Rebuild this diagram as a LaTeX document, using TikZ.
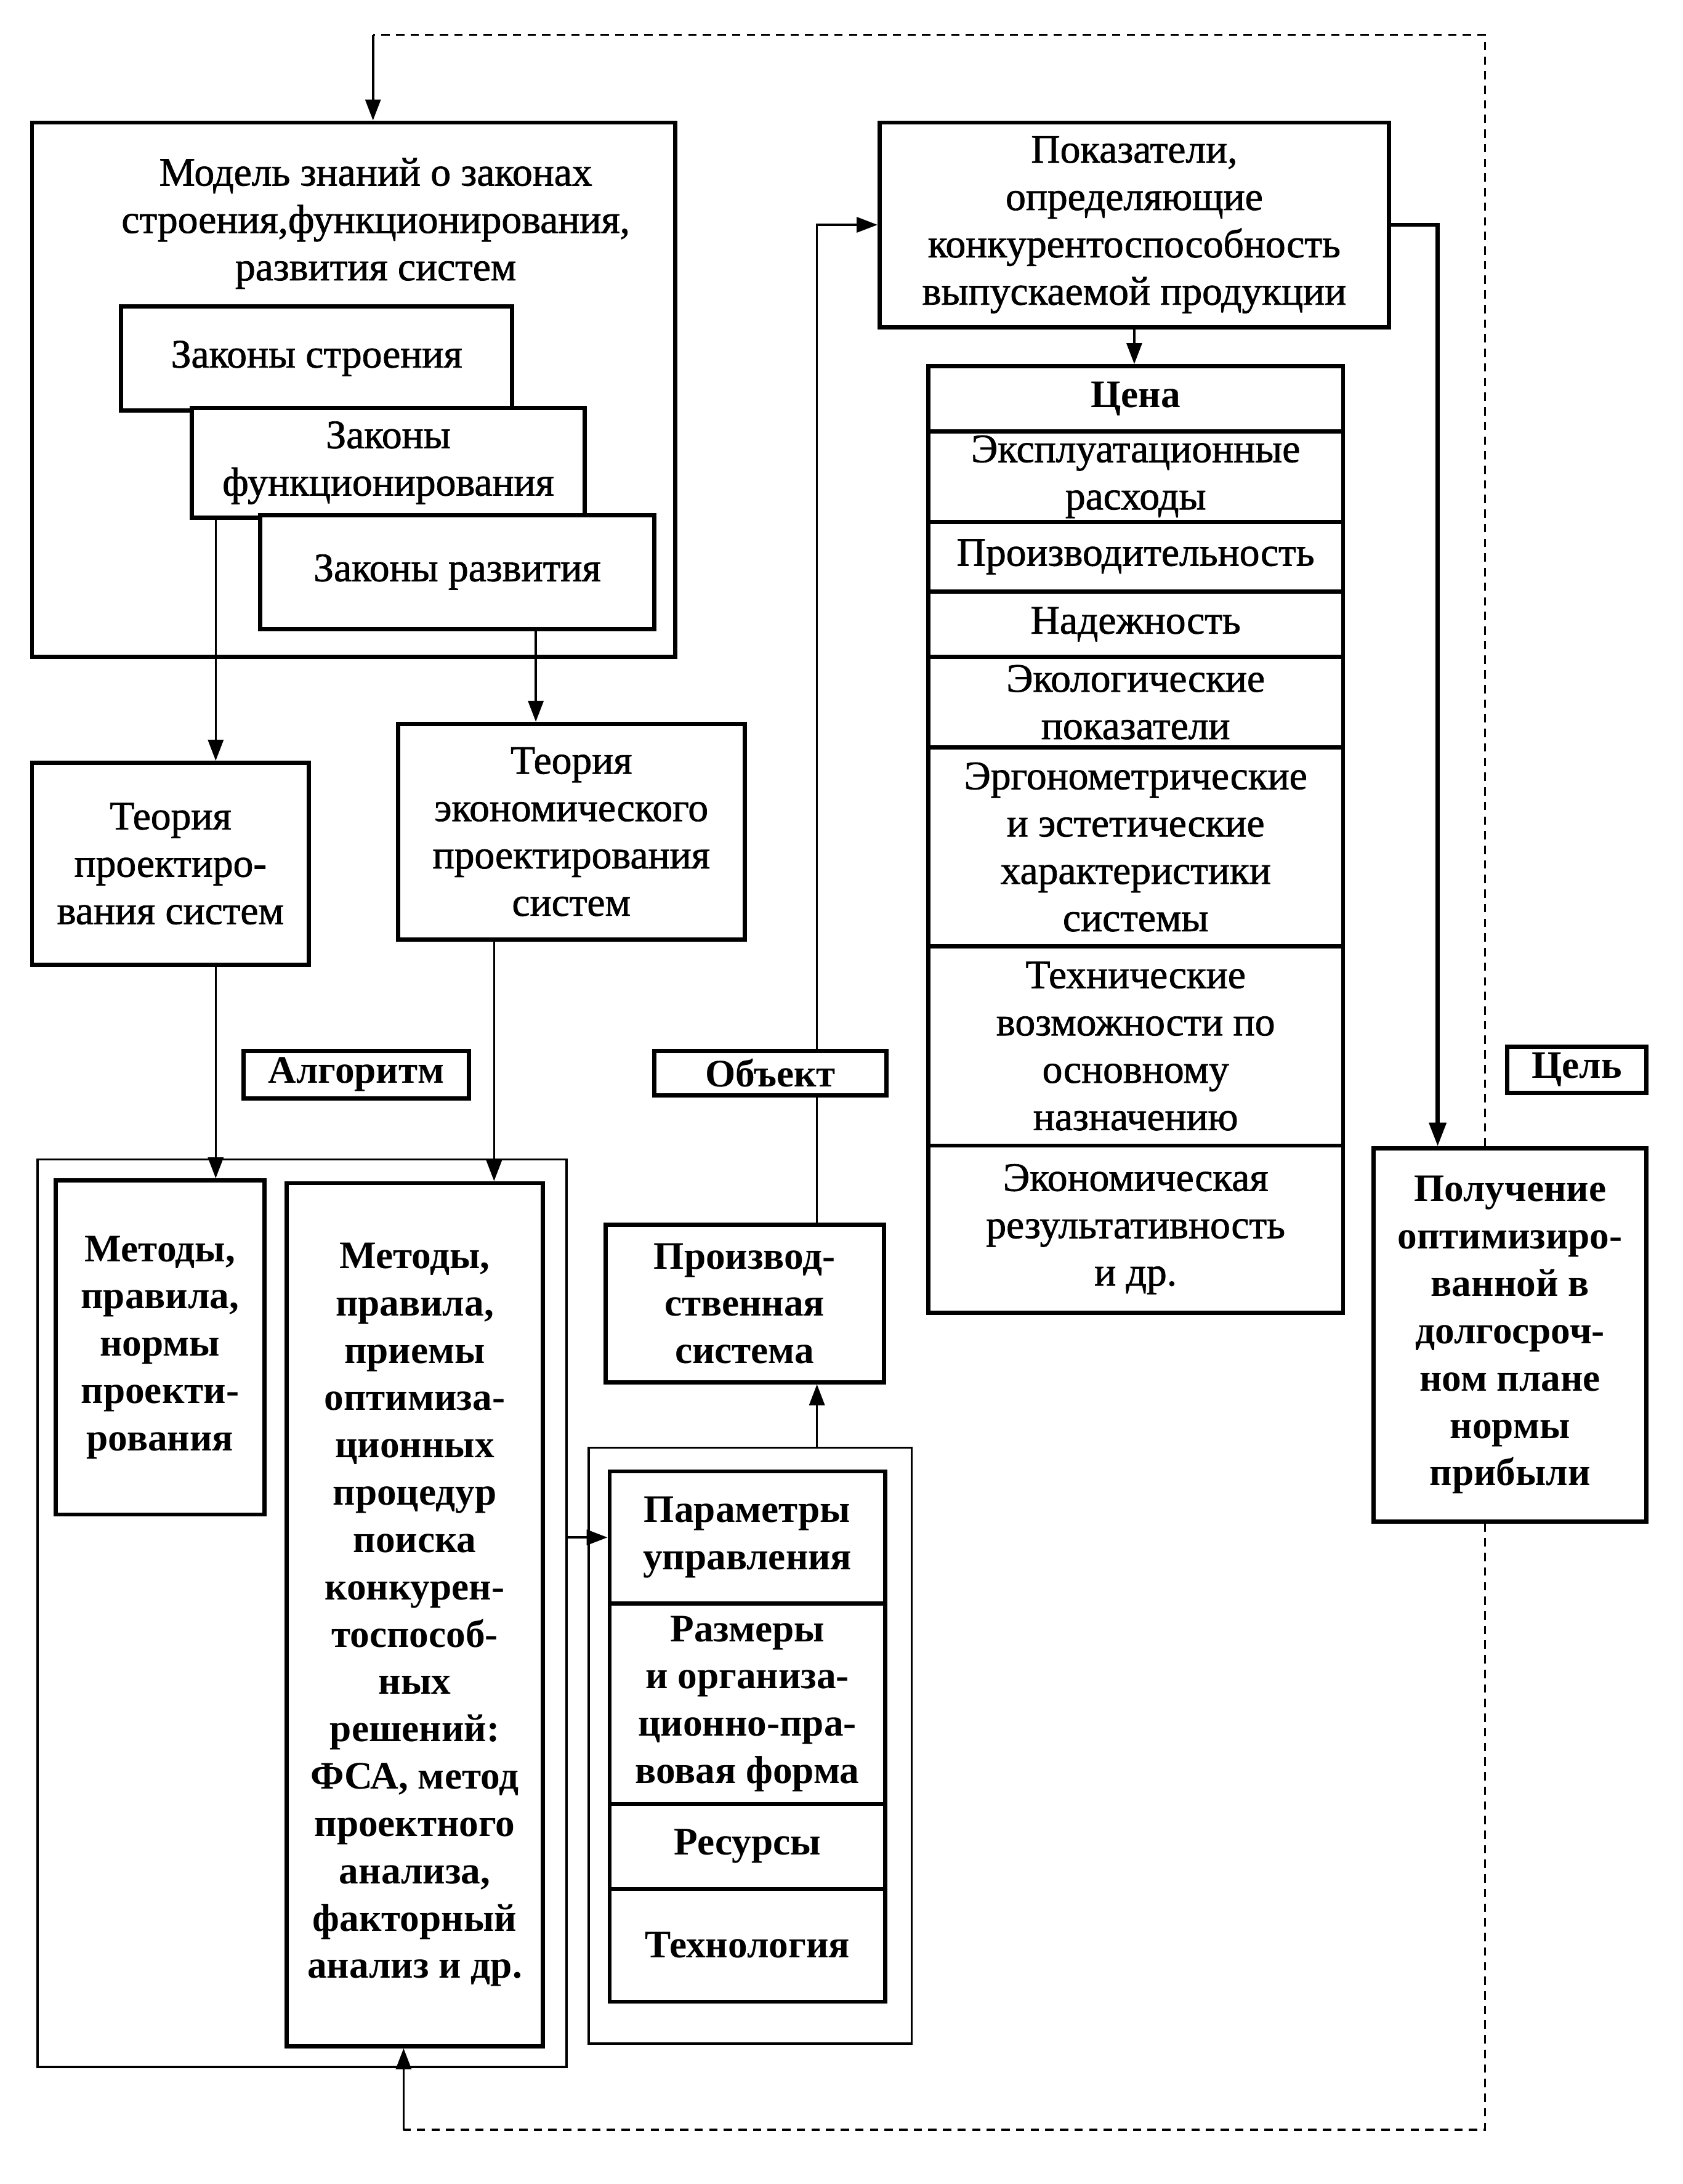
\documentclass[tikz,border=0pt]{standalone}
\usepackage{fontspec}
\setmainfont{Liberation Serif}
\newfontfamily\heavyfam[RawFeature={embolden=1.2}]{Liberation Serif}
\usetikzlibrary{arrows.meta}
\newcommand\rgf{\heavyfam\fontsize{29}{34}\selectfont}
\newcommand\bdf{\fontsize{28}{34}\selectfont\bfseries}
\begin{document}
\begin{tikzpicture}[x=1pt,y=-1pt,
  box/.style={draw, line width=3pt, fill=white, inner sep=0pt, align=center, font=\rgf},
  bbox/.style={box, font=\bdf},
  cont/.style={draw, line width=1.6pt, inner sep=0pt},
  lab/.style={draw, line width=3pt, fill=white, inner sep=0pt, font=\bdf},
  conn/.style={line width=1.6pt},
  arr/.style={conn, -{Triangle[length=15pt,width=11pt]}},
  tarr/.style={line width=3pt, -{Triangle[length=17pt,width=12pt]}},
  dsh/.style={line width=1.6pt, dash pattern=on 6pt off 4.5pt}
]
\useasboundingbox (0,0) rectangle (1209,1569);
\fill[white] (0,0) rectangle (1209,1569);

% coordinates for connector columns
\coordinate (x155) at (155,0);
\coordinate (x385) at (385,0);
\coordinate (x355) at (355,0);
\coordinate (x587) at (587,0);
\coordinate (x1033) at (1033,0);
\coordinate (x1067) at (1067,0);
\coordinate (x268) at (268,0);
\coordinate (tl) at (268,25);
\coordinate (tr) at (1067,25);
\coordinate (bl) at (290,1530);
\coordinate (br) at (1067,1530);

% model of knowledge
\node[box, minimum width=462pt, minimum height=384pt] (model) at (254,280) {};
\node[align=center, font=\rgf, inner sep=0pt] (modelt) at (270,160.5)
  {Модель знаний о законах\\строения,функционирования,\\развития систем};
\node[box, minimum width=281pt, minimum height=75pt] (zs) at (227.5,257.5) {Законы строения};
\node[box, minimum width=282pt, minimum height=79pt] (zf) at (279,332.5) {Законы\\функционирования};
\node[box, minimum width=283pt, minimum height=82pt] (zr) at (328.5,411) {Законы развития};

% theories
\node[box, minimum width=199pt, minimum height=145pt] (tp) at (122.5,620.5) {Теория\\проектиро-\\вания систем};
\node[box, minimum width=249pt, minimum height=155pt] (te) at (410.5,597.5) {Теория\\экономического\\проектирования\\систем};

\draw[arr] (zf.south -| x155) -- (tp.north -| x155);
\draw[arr] (zr.south -| x385) -- (te.north -| x385);

% algorithm container
\node[cont, minimum width=380pt, minimum height=652pt] (algc) at (217,1159) {};
\node[bbox, minimum width=150pt, minimum height=240pt] (mn) at (115,968)
  {Методы,\\правила,\\нормы\\проекти-\\рования};
\node[bbox, minimum width=184pt, minimum height=620pt] (mb) at (298,1160)
  {Методы,\\правила,\\приемы\\оптимиза-\\ционных\\процедур\\поиска\\конкурен-\\тоспособ-\\ных\\решений:\\ФСА, метод\\проектного\\анализа,\\факторный\\анализ и др.};

\draw[arr] (tp.south -| x155) -- (mn.north -| x155);
\draw[arr] (te.south -| x355) -- (mb.north -| x355);

% object container
\node[cont, minimum width=232pt, minimum height=428pt] (objc) at (539,1254) {};
\node[bbox, minimum width=198pt, minimum height=95pt] (pu) at (537,1104.5) {Параметры\\управления};
\node[bbox, minimum width=198pt, minimum height=144pt] (rz) at (537,1224) {Размеры\\и организа-\\ционно-пра-\\вовая форма};
\node[bbox, minimum width=198pt, minimum height=61pt] (rs) at (537,1326.5) {Ресурсы};
\node[bbox, minimum width=198pt, minimum height=81pt] (th) at (537,1397.5) {Технология};

\draw[arr] (algc.east |- pu.west) -- (pu.west);

% production system
\node[bbox, minimum width=200pt, minimum height=113pt] (ps) at (535,936.5) {Производ-\\ственная\\система};
\draw[arr] (objc.north -| x587) -- (ps.south -| x587);

% indicators
\node[box, minimum width=366pt, minimum height=147pt] (pk) at (815,161.5)
  {Показатели,\\определяющие\\конкурентоспособность\\выпускаемой продукции};
\draw[arr] (ps.north -| x587) |- (pk.west);

% table
\node[bbox, minimum width=298pt, minimum height=47pt] (r1) at (816,286.5) {Цена};
\node[box, minimum width=298pt, minimum height=65pt] (r2) at (816,342.5) {Эксплуатационные\\расходы};
\node[box, minimum width=298pt, minimum height=50pt] (r3) at (816,400) {Производительность};
\node[box, minimum width=298pt, minimum height=47pt] (r4) at (816,448.5) {Надежность};
\node[box, minimum width=298pt, minimum height=65pt] (r5) at (816,504.5) {Экологические\\показатели};
\node[box, minimum width=298pt, minimum height=143pt] (r6) at (816,608.5) {Эргонометрические\\и эстетические\\характеристики\\системы};
\node[box, minimum width=298pt, minimum height=143pt] (r7) at (816,751.5) {Технические\\возможности по\\основному\\назначению};
\node[box, minimum width=298pt, minimum height=120pt] (r8) at (816,883) {Экономическая\\результативность\\и др.};

\draw[arr] (pk.south) -- (r1.north -| pk.south);

% goal
\node[bbox, minimum width=196pt, minimum height=268pt] (pl) at (1085,959)
  {Получение\\оптимизиро-\\ванной в\\долгосроч-\\ном плане\\нормы\\прибыли};
\draw[tarr] (pk.east) -| (pl.north -| x1033);

% feedback dashed loop
\draw[dsh] (pl.north -| x1067) -- (tr) -- (tl);
\draw[arr] (tl) -- (model.north -| x268);
\draw[dsh] (pl.south -| x1067) -- (br) -- (bl);
\draw[arr] (bl) -- (mb.south -| bl);

% labels
\node[lab, minimum width=162pt, minimum height=34pt] (alg) at (256,772) {Алгоритм};
\node[lab, minimum width=167pt, minimum height=32pt] (obj) at (553.5,771) {Объект};
\node[lab, minimum width=100pt, minimum height=33pt] (cel) at (1133,768.5) {Цель};
\end{tikzpicture}
\end{document}
